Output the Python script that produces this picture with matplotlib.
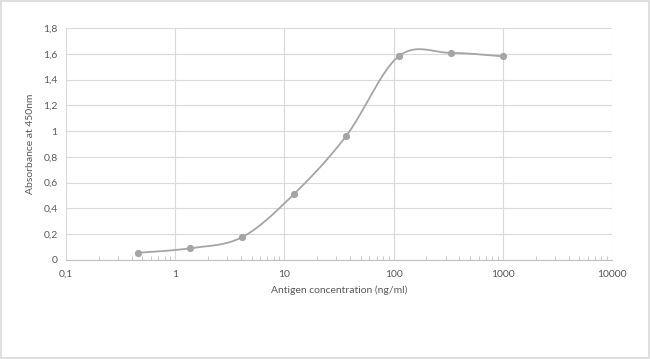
import numpy as np
import matplotlib
matplotlib.use("Agg")
import matplotlib.pyplot as plt
from matplotlib.ticker import FixedLocator, LogLocator, NullFormatter

# data (3-fold dilution series)
conc = [0.457, 1.37, 4.12, 12.3, 37.0, 111.0, 333.0, 1000.0]
absorb = [0.056, 0.091, 0.178, 0.513, 0.965, 1.58, 1.607, 1.58]

x_ticks = [0.1, 1, 10, 100, 1000, 10000]
x_labels = ["0,1", "1", "10", "100", "1000", "10000"]
y_ticks = [0, 0.2, 0.4, 0.6, 0.8, 1, 1.2, 1.4, 1.6, 1.8]
y_labels = ["0", "0,2", "0,4", "0,6", "0,8", "1", "1,2", "1,4", "1,6", "1,8"]

plt.rcParams['font.family'] = ['Lato', 'DejaVu Sans']
txt = '#595959'
grid = '#d9d9d9'
line_c = '#a5a5a5'


def excel_smooth(xs, ys, sx, sy, n=40):
    # cardinal spline like Excel's smoothed line, done in scaled (pixel-ish) space
    u = np.log10(xs) * sx
    v = np.array(ys) * sy
    pts = np.column_stack([u, v])
    out = []
    for i in range(len(pts) - 1):
        p0 = pts[i - 1] if i > 0 else pts[i]
        p1 = pts[i]
        p2 = pts[i + 1]
        p3 = pts[i + 2] if i + 2 < len(pts) else pts[i + 1]
        c1 = p1 + (p2 - p0) / 6.0
        c2 = p2 - (p3 - p1) / 6.0
        t = np.linspace(0, 1, n)[:, None]
        seg = ((1 - t) ** 3) * p1 + 3 * ((1 - t) ** 2) * t * c1 + 3 * (1 - t) * t ** 2 * c2 + t ** 3 * p2
        out.append(seg)
    out = np.vstack(out)
    return 10 ** (out[:, 0] / sx), out[:, 1] / sy


fig = plt.figure(figsize=(6.5, 3.59), dpi=100)
fig.patches.append(plt.Rectangle((0.0015, 0.002), 0.997, 0.995, transform=fig.transFigure,
                                 fill=False, edgecolor='#d9d9d9', linewidth=1.2))
ax = fig.add_axes([0.1015, 0.2758, 0.84, 0.6462])

sx, sy = 109.2, 129.0
xs, ys = excel_smooth(conc, absorb, sx, sy)
ax.plot(xs, ys, color=line_c, linewidth=1.3, zorder=3)
ax.plot(conc, absorb, 'o', color=line_c, markersize=4.2, zorder=4)

ax.set_xscale('log')
ax.set_xlim(0.1, 10000)
ax.set_ylim(0, 1.8)
ax.xaxis.set_major_locator(FixedLocator(x_ticks))
ax.set_xticklabels(x_labels)
ax.xaxis.set_minor_locator(LogLocator(base=10, subs=np.arange(2, 10)))
ax.xaxis.set_minor_formatter(NullFormatter())
ax.set_yticks(y_ticks)
ax.set_yticklabels(y_labels)

ax.grid(True, which='major', color=grid, linewidth=0.8)
ax.set_axisbelow(True)
for s in ['top', 'right', 'left']:
    ax.spines[s].set_visible(False)
ax.spines['bottom'].set_color('#bfbfbf')
ax.tick_params(axis='both', which='major', length=0, labelsize=7.5, colors=txt, pad=6)
ax.tick_params(axis='x', which='minor', direction='in', length=3, color='#bfbfbf')
ax.tick_params(axis='x', which='major', pad=7)

ax.set_xlabel("Antigen concentration (ng/ml)", fontsize=7.5, color=txt, labelpad=5)
ax.set_ylabel("Absorbance at 450nm", fontsize=7.5, color=txt, labelpad=6)

fig.savefig("out.png", dpi=100)
